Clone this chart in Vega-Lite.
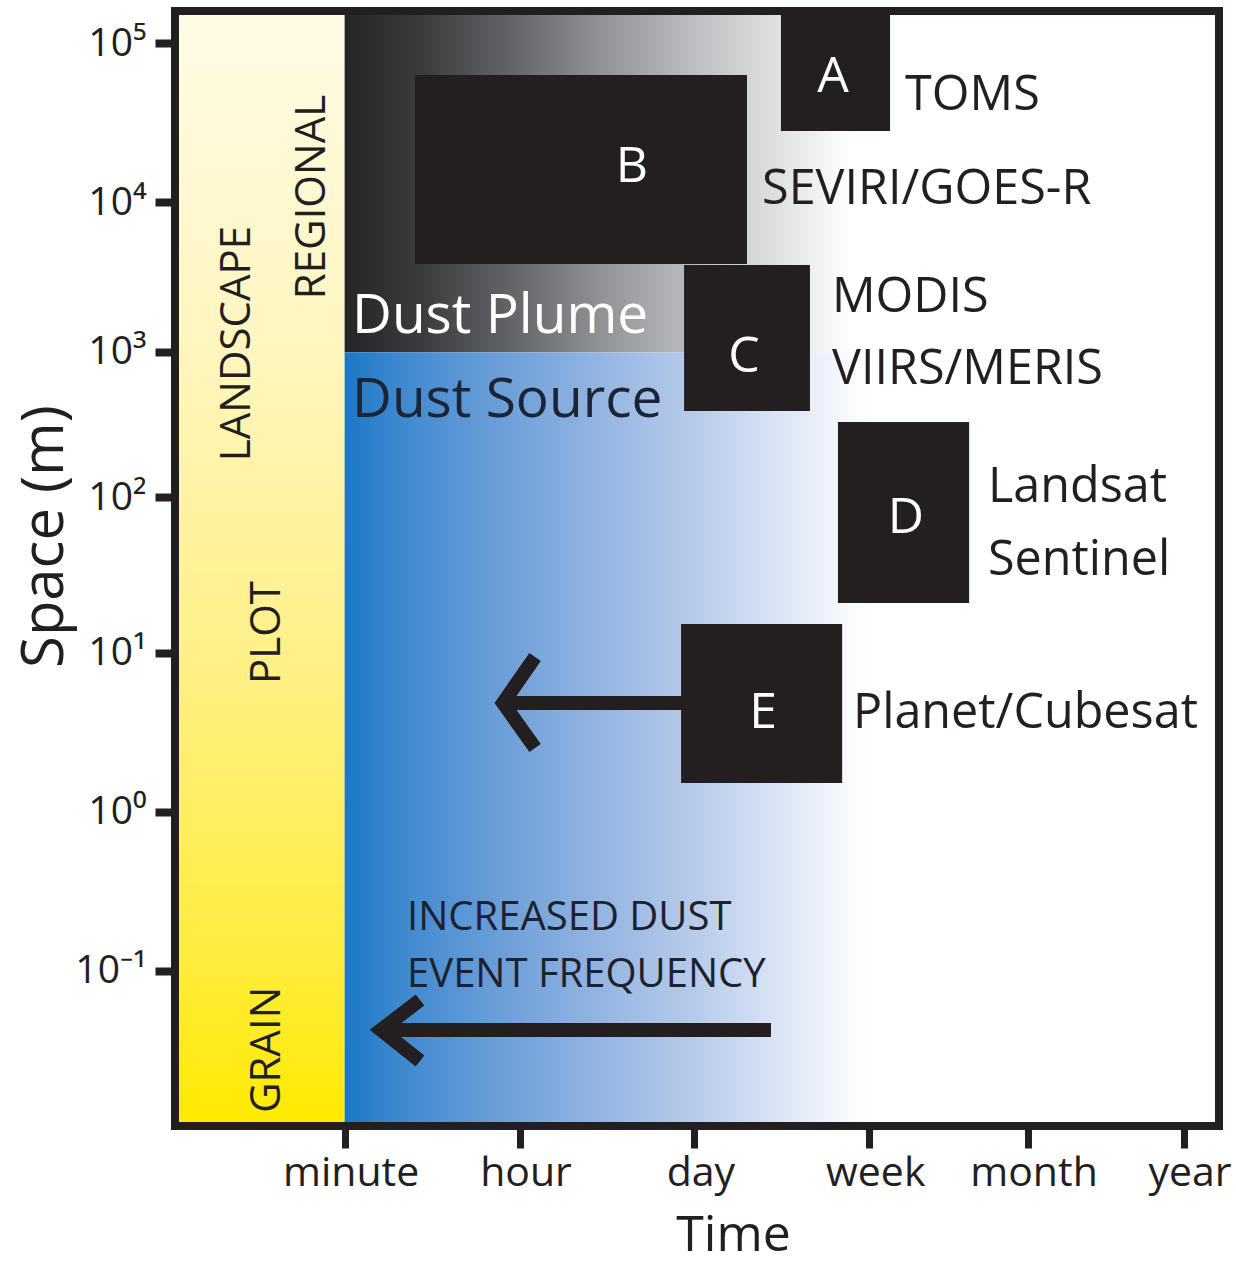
{
  "$schema": "https://vega.github.io/schema/vega-lite/v6.json",
  "width": 1044,
  "height": 1115,
  "autosize": {"type": "none"},
  "padding": {"left": 175, "top": 11, "right": 17, "bottom": 140},
  "background": "white",
  "config": {"font": "Open Sans", "view": {"stroke": null}},
  "datasets": {
    "yellow": [{"x": 0.03, "xe": 1.0, "y": -2.044, "ye": 5.209}],
    "gray": [{"x": 1.0, "xe": 3.89, "y": 2.99, "ye": 5.209}],
    "blue": [{"x": 1.0, "xe": 4.005, "y": -2.044, "ye": 2.99}],
    "frame": [{"x": 0.03, "xe": 6.0, "y": -2.044, "ye": 5.209}],
    "boxes": [
      {"box": "A", "x": 3.495, "xe": 4.119, "y": 4.428, "ye": 5.209},
      {"box": "B", "x": 1.402, "xe": 3.301, "y": 3.563, "ye": 4.792},
      {"box": "C", "x": 2.941, "xe": 3.661, "y": 2.607, "ye": 3.556},
      {"box": "D", "x": 3.821, "xe": 4.571, "y": 1.358, "ye": 2.535},
      {"box": "E", "x": 2.924, "xe": 3.845, "y": 0.187, "ye": 1.221}
    ],
    "letters": [
      {"text": "A", "x": 3.793, "y": 4.682},
      {"text": "B", "x": 2.643, "y": 4.096},
      {"text": "C", "x": 3.284, "y": 2.861},
      {"text": "D", "x": 4.21, "y": 1.813},
      {"text": "E", "x": 3.393, "y": 0.545}
    ],
    "sensors": [
      {"text": "TOMS", "x": 4.205, "y": 4.565},
      {"text": "SEVIRI/GOES-R", "x": 3.387, "y": 3.953},
      {"text": "MODIS", "x": 3.787, "y": 3.251},
      {"text": "VIIRS/MERIS", "x": 3.787, "y": 2.782},
      {"text": "Landsat", "x": 4.679, "y": 2.015},
      {"text": "Sentinel", "x": 4.679, "y": 1.54},
      {"text": "Planet/Cubesat", "x": 3.907, "y": 0.545}
    ],
    "plume": [{"text": "Dust Plume", "x": 1.042, "y": 3.114}],
    "source": [{"text": "Dust Source", "x": 1.042, "y": 2.568}],
    "freq": [
      {"text": "INCREASED DUST", "x": 1.357, "y": -0.769},
      {"text": "EVENT FREQUENCY", "x": 1.357, "y": -1.139}
    ],
    "scales": [
      {"text": "LANDSCAPE", "x": 0.459, "y": 3.046},
      {"text": "REGIONAL", "x": 0.888, "y": 3.999},
      {"text": "PLOT", "x": 0.63, "y": 1.166},
      {"text": "GRAIN", "x": 0.63, "y": -1.549}
    ],
    "arrows": [
      {"path": "e1", "seq": 0, "x": 1.9, "y": 0.708},
      {"path": "e1", "seq": 1, "x": 2.975, "y": 0.708},
      {"path": "e2", "seq": 0, "x": 2.089, "y": 1.007},
      {"path": "e2", "seq": 1, "x": 1.906, "y": 0.708},
      {"path": "e2", "seq": 2, "x": 2.089, "y": 0.415},
      {"path": "b1", "seq": 0, "x": 1.214, "y": -1.419},
      {"path": "b1", "seq": 1, "x": 3.438, "y": -1.419},
      {"path": "b2", "seq": 0, "x": 1.431, "y": -1.224},
      {"path": "b2", "seq": 1, "x": 1.208, "y": -1.419},
      {"path": "b2", "seq": 2, "x": 1.431, "y": -1.621}
    ]
  },
  "encoding": {
    "x": {
      "field": "x",
      "type": "quantitative",
      "scale": {"domain": [0.03, 6.0], "nice": false, "zero": false},
      "axis": {
        "orient": "bottom",
        "domain": false,
        "grid": false,
        "values": [1, 2, 3, 4, 4.905, 5.797],
        "labelExpr": "datum.value < 1.5 ? 'minute' : datum.value < 2.5 ? 'hour' : datum.value < 3.5 ? 'day' : datum.value < 4.5 ? 'week' : datum.value < 5.3 ? 'month' : 'year'",
        "labelFont": "Open Sans",
        "labelFontSize": 41,
        "labelColor": "#231f20",
        "labelPadding": 5,
        "labelOffset": 6,
        "labelFlush": false,
        "labelOverlap": false,
        "tickColor": "#231f20",
        "tickWidth": 7,
        "tickSize": 22,
        "title": "Time",
        "titleFont": "Open Sans",
        "titleFontSize": 50,
        "titleFontWeight": "normal",
        "titleColor": "#231f20",
        "titleX": 558,
        "titleY": 124,
        "titleBaseline": "alphabetic",
        "titleAlign": "center"
      }
    },
    "y": {
      "field": "y",
      "type": "quantitative",
      "scale": {"domain": [-2.044, 5.209], "nice": false, "zero": false},
      "axis": {
        "orient": "left",
        "domain": false,
        "grid": false,
        "values": [5, 3.966, 2.991, 2.047, 1.033, 0, -1.035],
        "labelExpr": "'10' + (round(datum.value) == 5 ? '⁵' : round(datum.value) == 4 ? '⁴' : round(datum.value) == 3 ? '³' : round(datum.value) == 2 ? '²' : round(datum.value) == 1 ? '¹' : round(datum.value) == 0 ? '⁰' : '⁻¹')",
        "labelFont": "Open Sans",
        "labelFontSize": 39,
        "labelColor": "#231f20",
        "labelPadding": 9,
        "labelFlush": false,
        "labelOverlap": false,
        "tickColor": "#231f20",
        "tickWidth": 8,
        "tickSize": 20,
        "title": "Space (m)",
        "titleFont": "Open Sans",
        "titleFontSize": 58,
        "titleFontWeight": "normal",
        "titleColor": "#231f20",
        "titleAngle": 270,
        "titleX": -113,
        "titleY": 525,
        "titleBaseline": "alphabetic",
        "titleAlign": "center"
      }
    }
  },
  "layer": [
    {
      "data": {"name": "yellow"},
      "mark": {
        "type": "rect",
        "fill": {
          "gradient": "linear", "x1": 0, "y1": 0, "x2": 0, "y2": 1,
          "stops": [
            {"offset": 0, "color": "#fffbe6"},
            {"offset": 0.3, "color": "#fff6bf"},
            {"offset": 0.6, "color": "#fff083"},
            {"offset": 0.85, "color": "#ffec3e"},
            {"offset": 1, "color": "#ffea00"}
          ]
        }
      },
      "encoding": {"x2": {"field": "xe"}, "y2": {"field": "ye"}}
    },
    {
      "data": {"name": "gray"},
      "mark": {
        "type": "rect",
        "fill": {
          "gradient": "linear", "x1": 0, "y1": 0, "x2": 1, "y2": 0,
          "stops": [
            {"offset": 0, "color": "#252527"},
            {"offset": 0.15, "color": "#3b3b3e"},
            {"offset": 0.31, "color": "#5f6063"},
            {"offset": 0.5, "color": "#8f9093"},
            {"offset": 0.7, "color": "#bfc0c3"},
            {"offset": 0.86, "color": "#e0e1e2"},
            {"offset": 1, "color": "#ffffff"}
          ]
        }
      },
      "encoding": {"x2": {"field": "xe"}, "y2": {"field": "ye"}}
    },
    {
      "data": {"name": "blue"},
      "mark": {
        "type": "rect",
        "fill": {
          "gradient": "linear", "x1": 0, "y1": 0, "x2": 1, "y2": 0,
          "stops": [
            {"offset": 0, "color": "#1b78c6"},
            {"offset": 0.1, "color": "#3d88cf"},
            {"offset": 0.3, "color": "#6c9fd8"},
            {"offset": 0.49, "color": "#95b5e2"},
            {"offset": 0.68, "color": "#bacdeb"},
            {"offset": 0.83, "color": "#dbe5f5"},
            {"offset": 0.96, "color": "#f8fafd"},
            {"offset": 1, "color": "#ffffff"}
          ]
        }
      },
      "encoding": {"x2": {"field": "xe"}, "y2": {"field": "ye"}}
    },
    {
      "data": {"name": "arrows"},
      "mark": {"type": "line", "stroke": "#231f20", "strokeWidth": 14, "strokeCap": "butt", "strokeJoin": "miter"},
      "encoding": {"detail": {"field": "path"}, "order": {"field": "seq"}}
    },
    {
      "data": {"name": "boxes"},
      "mark": {"type": "rect", "fill": "#231f20"},
      "encoding": {"x2": {"field": "xe"}, "y2": {"field": "ye"}}
    },
    {
      "data": {"name": "letters"},
      "mark": {"type": "text", "color": "white", "fontSize": 50, "align": "center", "baseline": "alphabetic"},
      "encoding": {"text": {"field": "text"}}
    },
    {
      "data": {"name": "sensors"},
      "mark": {"type": "text", "color": "#231f20", "fontSize": 48.5, "align": "left", "baseline": "alphabetic"},
      "encoding": {"text": {"field": "text"}}
    },
    {
      "data": {"name": "plume"},
      "mark": {"type": "text", "color": "white", "fontSize": 55, "align": "left", "baseline": "alphabetic"},
      "encoding": {"text": {"field": "text"}}
    },
    {
      "data": {"name": "source"},
      "mark": {"type": "text", "color": "#1c2536", "fontSize": 55, "align": "left", "baseline": "alphabetic"},
      "encoding": {"text": {"field": "text"}}
    },
    {
      "data": {"name": "freq"},
      "mark": {"type": "text", "color": "#1c2230", "fontSize": 40, "align": "left", "baseline": "alphabetic"},
      "encoding": {"text": {"field": "text"}}
    },
    {
      "data": {"name": "scales"},
      "mark": {"type": "text", "color": "#231f20", "fontSize": 42, "align": "center", "baseline": "alphabetic", "angle": 270},
      "encoding": {"text": {"field": "text"}}
    },
    {
      "data": {"name": "frame"},
      "mark": {"type": "rect", "fill": null, "fillOpacity": 0, "stroke": "#231f20", "strokeWidth": 8},
      "encoding": {"x2": {"field": "xe"}, "y2": {"field": "ye"}}
    }
  ]
}
